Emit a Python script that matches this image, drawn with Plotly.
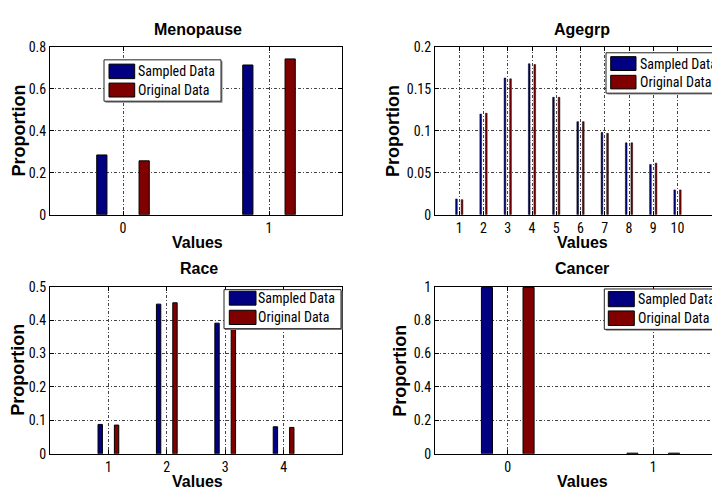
import plotly.graph_objects as go

# ---------------- data ----------------
meno_values = [0, 1]
meno_sampled = [0.285, 0.714]
meno_original = [0.257, 0.743]

age_values = [1, 2, 3, 4, 5, 6, 7, 8, 9, 10]
age_sampled = [0.0188, 0.120, 0.163, 0.180, 0.140, 0.111, 0.098, 0.0857, 0.060, 0.0296]
age_original = [0.0180, 0.121, 0.162, 0.179, 0.140, 0.111, 0.097, 0.0857, 0.0615, 0.0296]

race_values = [1, 2, 3, 4]
race_sampled = [0.088, 0.448, 0.391, 0.081]
race_original = [0.086, 0.452, 0.389, 0.079]

cancer_values = [0, 1]
cancer_sampled = [0.996, 0.004]
cancer_original = [0.996, 0.004]

titles = ["Menopause", "Agegrp", "Race", "Cancer"]
series_names = ["Sampled Data", "Original Data"]

meno_yticks = [0, 0.2, 0.4, 0.6, 0.8]
meno_yticktext = ["0", "0.2", "0.4", "0.6", "0.8"]
age_yticks = [0, 0.05, 0.1, 0.15, 0.2]
age_yticktext = ["0", "0.05", "0.1", "0.15", "0.2"]
race_yticks = [0, 0.1, 0.2, 0.3, 0.4, 0.5]
race_yticktext = ["0", "0.1", "0.2", "0.3", "0.4", "0.5"]
cancer_yticks = [0, 0.2, 0.4, 0.6, 0.8, 1]
cancer_yticktext = ["0", "0.2", "0.4", "0.6", "0.8", "1"]

# ---------------- style ----------------
W, H = 720, 500
OFF = 8  # page body margin that shifts the figure in the window
BLUE = "#000080"
RED = "#800000"
NARROW = "Roboto Condensed, DejaVu Sans Condensed, Liberation Sans, Arial, sans-serif"
BOLD = "Liberation Sans, Arial, sans-serif"


def px(x):
    return (x - OFF) / W


def py(y):
    return 1 - (y - OFF) / H


fig = go.Figure()

panels = [
    # values, sampled, original, xaxis, yaxis, half-offset, width, linewidth
    (meno_values, meno_sampled, meno_original, "x", "y", 0.145, 0.07, 1),
    (age_values, age_sampled, age_original, "x2", "y2", 0.115, 0.07, 0.5),
    (race_values, race_sampled, race_original, "x3", "y3", 0.14, 0.075, 1),
    (cancer_values, cancer_sampled, cancer_original, "x4", "y4", 0.143, 0.076, 1),
]

for vals, samp, orig, xa, ya, c, w, lw in panels:
    fig.add_trace(go.Bar(x=vals, y=samp, name=series_names[0], xaxis=xa, yaxis=ya,
                         offset=-c - w / 2, width=w, showlegend=False,
                         marker=dict(color=BLUE, line=dict(color="black", width=lw))))
    fig.add_trace(go.Bar(x=vals, y=orig, name=series_names[1], xaxis=xa, yaxis=ya,
                         offset=c - w / 2, width=w, showlegend=False,
                         marker=dict(color=RED, line=dict(color="black", width=lw))))

left_dom = [px(50), px(342)]
right_dom = [px(435), px(726)]
top_dom = [py(213.3), py(40)]
bot_dom = [py(460.3), py(287.7)]

grid_common = dict(
    showgrid=True, gridcolor="#444444", gridwidth=1, griddash="3px,2px,1px,2px",
    showline=True, linecolor="black", linewidth=1,
    ticks="inside", ticklen=4, tickcolor="black",
    zeroline=False, tickfont=dict(family=NARROW, size=14, color="black"),
)


def xaxis(dom, anchor, rng, vals):
    d = dict(grid_common)
    d.update(domain=dom, anchor=anchor, range=rng, tickmode="array",
             tickvals=vals, ticktext=[str(v) for v in vals], mirror="ticks")
    return d


def yaxis(dom, anchor, rng, vals, text):
    d = dict(grid_common)
    d.update(domain=dom, anchor=anchor, range=rng, tickmode="array",
             tickvals=vals, ticktext=text, mirror="ticks")
    return d


fig.update_layout(
    width=W, height=H, margin=dict(l=0, r=0, t=0, b=0),
    paper_bgcolor="white", plot_bgcolor="white", barmode="overlay",
    showlegend=False,
    xaxis=xaxis(left_dom, "y", [-0.5, 1.5], meno_values),
    yaxis=yaxis(top_dom, "x", [0, 0.8], meno_yticks, meno_yticktext),
    xaxis2=xaxis(right_dom, "y2", [0, 12], age_values),
    yaxis2=yaxis(top_dom, "x2", [0, 0.2], age_yticks, age_yticktext),
    xaxis3=xaxis(left_dom, "y3", [0, 5], race_values),
    yaxis3=yaxis(bot_dom, "x3", [0, 0.5], race_yticks, race_yticktext),
    xaxis4=xaxis(right_dom, "y4", [-0.5, 1.5], cancer_values),
    yaxis4=yaxis(bot_dom, "x4", [0, 1], cancer_yticks, cancer_yticktext),
)

annotations = []
shapes = []

# titles and axis labels (positions in window pixels)
title_pos = [(198, 21.5), (582, 21.5), (199, 268.5), (582, 268.5)]
values_pos = [(197, 241.5), (582, 241.5), (197, 488.5), (582, 488.5)]
prop_pos = [(18.5, 126.7), (393, 126.7), (18.5, 374), (400.5, 374)]
for t, (tx, ty), (vx, vy), (ppx, ppy) in zip(titles, title_pos, values_pos, prop_pos):
    annotations.append(dict(text="<b>%s</b>" % t, x=px(tx), y=py(ty), xref="paper", yref="paper",
                            xanchor="center", yanchor="middle", showarrow=False,
                            font=dict(family=BOLD, size=16, color="black")))
    annotations.append(dict(text="<b>Values</b>", x=px(vx), y=py(vy), xref="paper", yref="paper",
                            xanchor="center", yanchor="middle", showarrow=False,
                            font=dict(family=BOLD, size=16, color="black")))
    annotations.append(dict(text="<b>Proportion</b>", x=px(ppx), y=py(ppy), xref="paper", yref="paper",
                            xanchor="center", yanchor="middle", showarrow=False, textangle=-90,
                            borderpad=0,
                            font=dict(family=BOLD, size=18, color="black")))

# manual legends: box (x0, y0, x1, y1), swatch x0, x1, swatch rows (y0, y1), text x
legends = [
    ((104, 53.3, 221, 96), (109, 134.7), [(57.7, 72.7), (77.3, 91.7)], 137.3),
    ((606, 46, 728, 87.7), (610.7, 636), [(50, 64.3), (69.3, 83.3)], 638.7),
    ((224, 290.7, 341, 331), (229.3, 256), [(292.3, 306.7), (312, 326.7)], 257.3),
    ((604.3, 290, 728, 331.7), (608.3, 634.3), [(292.7, 308.3), (312.7, 327.7)], 636.7),
]
for (bx0, by0, bx1, by1), (sx0, sx1), rows, tx in legends:
    shapes.append(dict(type="rect", xref="paper", yref="paper", layer="above",
                       x0=px(bx0 + 1.5), x1=px(bx1 + 1.5), y0=py(by1 + 1.5), y1=py(by0 + 1.5),
                       fillcolor="#888888", line=dict(width=0)))
    shapes.append(dict(type="rect", xref="paper", yref="paper", layer="above",
                       x0=px(bx0), x1=px(bx1), y0=py(by1), y1=py(by0),
                       fillcolor="white", line=dict(color="#222222", width=1)))
    for (ry0, ry1), col, name in zip(rows, [BLUE, RED], series_names):
        shapes.append(dict(type="rect", xref="paper", yref="paper", layer="above",
                           x0=px(sx0), x1=px(sx1), y0=py(ry1), y1=py(ry0),
                           fillcolor=col, line=dict(color="black", width=1)))
        annotations.append(dict(text=name, x=px(tx), y=py((ry0 + ry1) / 2), xref="paper", yref="paper",
                                xanchor="left", yanchor="middle", showarrow=False, borderpad=0,
                                font=dict(family=NARROW, size=14, color="black")))

fig.update_layout(annotations=annotations, shapes=shapes)

fig.write_html("out.html")
